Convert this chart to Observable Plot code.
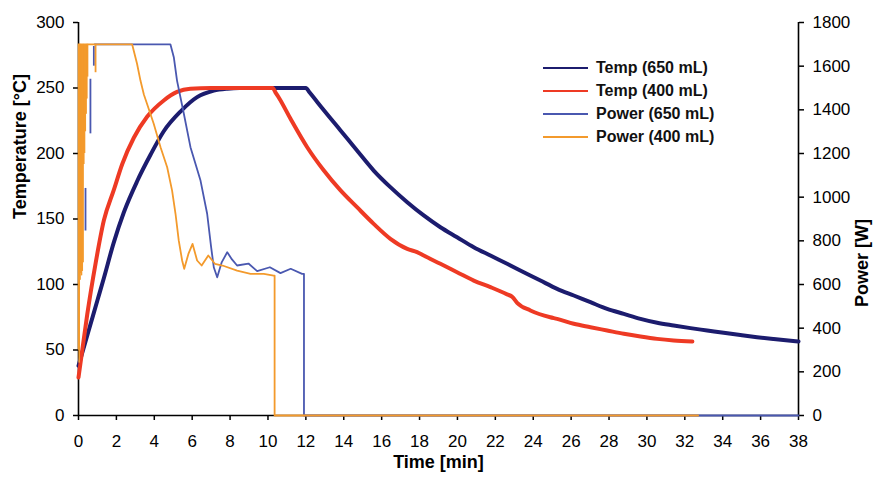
<!DOCTYPE html>
<html>
<head>
<meta charset="utf-8">
<script src="https://cdn.jsdelivr.net/npm/d3@7"></script>
<script src="https://cdn.jsdelivr.net/npm/@observablehq/plot@0.6"></script>
<style>
  body { margin: 0; background: #fff; }
  #wrap { position: relative; width: 876px; height: 480px; font-family: "Liberation Sans", Arial, sans-serif; }
  .leg { position: absolute; left: 543px; font-weight: bold; font-size: 16px; color: #111; }
  .leg .row { position: relative; height: 23px; display: flex; align-items: center; }
  .leg .sw { width: 45px; height: 2px; margin-right: 8px; }
</style>
</head>
<body>
<div id="wrap"></div>
<script>
// ---- data ----
const xTicks = [0,2,4,6,8,10,12,14,16,18,20,22,24,26,28,30,32,34,36,38];
const tempTicks = [0,50,100,150,200,250,300];
const powerTicks = [0,200,400,600,800,1000,1200,1400,1600,1800];
const seriesNames = ["Temp (650 mL)", "Temp (400 mL)", "Power (650 mL)", "Power (400 mL)"];
const seriesColors = ["#1c1c6e", "#ee3a24", "#4a58b0", "#f39a2c"];

const time650 = [0,0.5,1.0,1.34,1.86,2.39,3.1,3.8,4.5,5.38,6.26,7.14,7.85,8.5,12.0,12.2,12.95,13.83,14.7,15.58,16.46,17.35,18.22,19.1,19.98,20.86,21.74,22.62,23.5,24.38,25.26,26.14,27.02,27.9,28.78,29.66,30.54,31.41,32.3,33.18,34.05,34.93,35.81,36.69,38];
const temp650 = [38,63,88,105,132,155,179,199,217,232,243,248,249.5,250,250,246.5,233,217.6,202.3,187,174.3,162.8,152.7,143.7,136.1,128.5,122.1,115.8,109.4,103,96.7,91.6,86.5,81.4,77.6,73.8,70.8,68.7,66.7,64.9,63.1,61.4,59.8,58.4,56.5];

const time400 = [0,0.2,0.46,0.9,1.34,1.86,2.31,2.92,3.62,4.5,5.2,5.9,7.0,10.25,10.4,10.6,11.19,12.07,12.95,13.83,14.7,15.58,16.46,17.35,17.87,18.22,19.1,19.98,20.86,21.74,22.62,22.9,23.15,23.85,24.9,25.26,26.14,27.02,27.9,28.78,29.66,30.54,31.41,32.4];
const temp400 = [29,50,77,116,149,172,192,212,228,240.5,247,249.5,250,250,246.5,242,226.5,204.8,187,171.8,159,146.3,134.9,127.2,124.7,122.1,115.8,109.4,103,98,92.5,90.5,86,80.2,75,73.8,70,67.4,64.9,62.4,60.3,58.5,57.3,56.5];

const ptime650 = [0.85,4.85,5.03,5.2,5.56,5.91,6.44,6.79,7.0,7.14,7.32,7.55,7.85,8.1,8.37,8.97,9.43,10.1,10.66,11.2,11.8,11.9,11.9,38];
const power650 = [1700,1700,1641,1534,1382,1229,1076,924,771,679,633,700,748,715,687,696,661,679,652,672,649,649,0,0];

const ptime400 = [0.48,2.83,3.09,3.27,3.45,3.62,3.97,4.33,4.68,4.94,5.12,5.29,5.47,5.58,5.8,6.02,6.26,6.5,6.85,7.2,7.6,8.37,9.08,9.78,10.3,10.35,10.35,32.7];
const power400 = [1700,1700,1611,1534,1470,1427,1336,1229,1137,1030,924,802,710,672,740,786,710,687,733,695,687,664,649,649,641,641,0,0];

// early on/off switching of the power (dense spikes from the low value up to 1700 W)
const spikeT400 = [0,0.04,0.08,0.12,0.16,0.2,0.24,0.28,0.32,0.36,0.4,0.44,0.48];
const spikeLow400 = [300,240,620,650,640,660,700,1150,1200,1300,1380,1450,1550];
const lateSpikeT400 = [0.9];
const lateSpikeLow400 = [1570];
const spikeT650 = [0.37,0.63,0.81];
const spikeLow650 = [845,1290,1600];
const spikeHigh650 = [1040,1540,1690];
const powerMax = 1700;

// ---- build ----
const P2T = 300 / 1800; // power axis -> temperature axis
const tbl = (xs, ys, k = 1) => xs.map((t, i) => ({t, v: ys[i] * k}));
const d650 = tbl(time650, temp650);
const d400 = tbl(time400, temp400);
const p650 = tbl(ptime650, power650, P2T);
const p400 = tbl(ptime400, power400, P2T);
const s400 = spikeT400.map((t, i) => ({t, lo: spikeLow400[i] * P2T, hi: powerMax * P2T}));
const l400 = lateSpikeT400.map((t, i) => ({t, lo: lateSpikeLow400[i] * P2T, hi: powerMax * P2T}));
const s650 = spikeT650.map((t, i) => ({t, lo: spikeLow650[i] * P2T, hi: spikeHigh650[i] * P2T}));

const chart = Plot.plot({
  width: 876, height: 480,
  marginLeft: 78, marginRight: 78, marginTop: 22, marginBottom: 65,
  x: {domain: [0, 38]},
  y: {domain: [0, 300]},
  style: {fontFamily: "'Liberation Sans', Arial, sans-serif", fontSize: "17px", color: "#000", background: "white", overflow: "visible"},
  marks: [
    Plot.axisX(xTicks, {tickSize: 5, tickPadding: 14, label: null, strokeWidth: 1.5}),
    Plot.axisY(tempTicks, {anchor: "left", tickSize: 5, tickPadding: 9, label: null, strokeWidth: 1.5}),
    Plot.axisY(powerTicks.map(p => p * P2T), {anchor: "right", tickSize: 5, tickPadding: 9, label: null, strokeWidth: 1.5, tickFormat: d => String(Math.round(d / P2T))}),
    Plot.ruleX([0], {stroke: "#000", strokeWidth: 1.6}),
    Plot.ruleX([38], {stroke: "#000", strokeWidth: 1.6}),
    Plot.ruleY([0], {stroke: "#000", strokeWidth: 1.6}),
    Plot.line(d650, {x: "t", y: "v", stroke: seriesColors[0], strokeWidth: 4, curve: "monotone-x"}),
    Plot.line(d400, {x: "t", y: "v", stroke: seriesColors[1], strokeWidth: 4, curve: "monotone-x"}),
    Plot.ruleX(s650, {x: "t", y1: "lo", y2: "hi", stroke: seriesColors[2], strokeWidth: 1.8}),
    Plot.line(p650, {x: "t", y: "v", stroke: seriesColors[2], strokeWidth: 1.8}),
    Plot.areaY(s400, {x: "t", y1: "lo", y2: "hi", fill: seriesColors[3], curve: "step-after"}),
    Plot.ruleX(s400, {x: "t", y1: "lo", y2: "hi", stroke: seriesColors[3], strokeWidth: 1.5}),
    Plot.ruleX(l400, {x: "t", y1: "lo", y2: "hi", stroke: seriesColors[3], strokeWidth: 1.8}),
    Plot.line(p400, {x: "t", y: "v", stroke: seriesColors[3], strokeWidth: 1.8}),
    Plot.text(["Temperature [°C]"], {frameAnchor: "left", dx: -58, rotate: -90, fontWeight: "bold", fontSize: 18}),
    Plot.text(["Power [W]"], {frameAnchor: "right", dx: 64, rotate: -90, fontWeight: "bold", fontSize: 18}),
    Plot.text(["Time [min]"], {frameAnchor: "bottom", dy: 52, fontWeight: "bold", fontSize: 18})
  ]
});

const wrap = document.getElementById("wrap");
wrap.appendChild(chart);

const leg = document.createElement("div");
leg.className = "leg";
leg.style.top = "56px";
seriesNames.forEach((name, i) => {
  const row = document.createElement("div");
  row.className = "row";
  const sw = document.createElement("span");
  sw.className = "sw";
  sw.style.background = seriesColors[i];
  const lab = document.createElement("span");
  lab.textContent = name;
  row.appendChild(sw);
  row.appendChild(lab);
  leg.appendChild(row);
});
wrap.appendChild(leg);
</script>
</body>
</html>
